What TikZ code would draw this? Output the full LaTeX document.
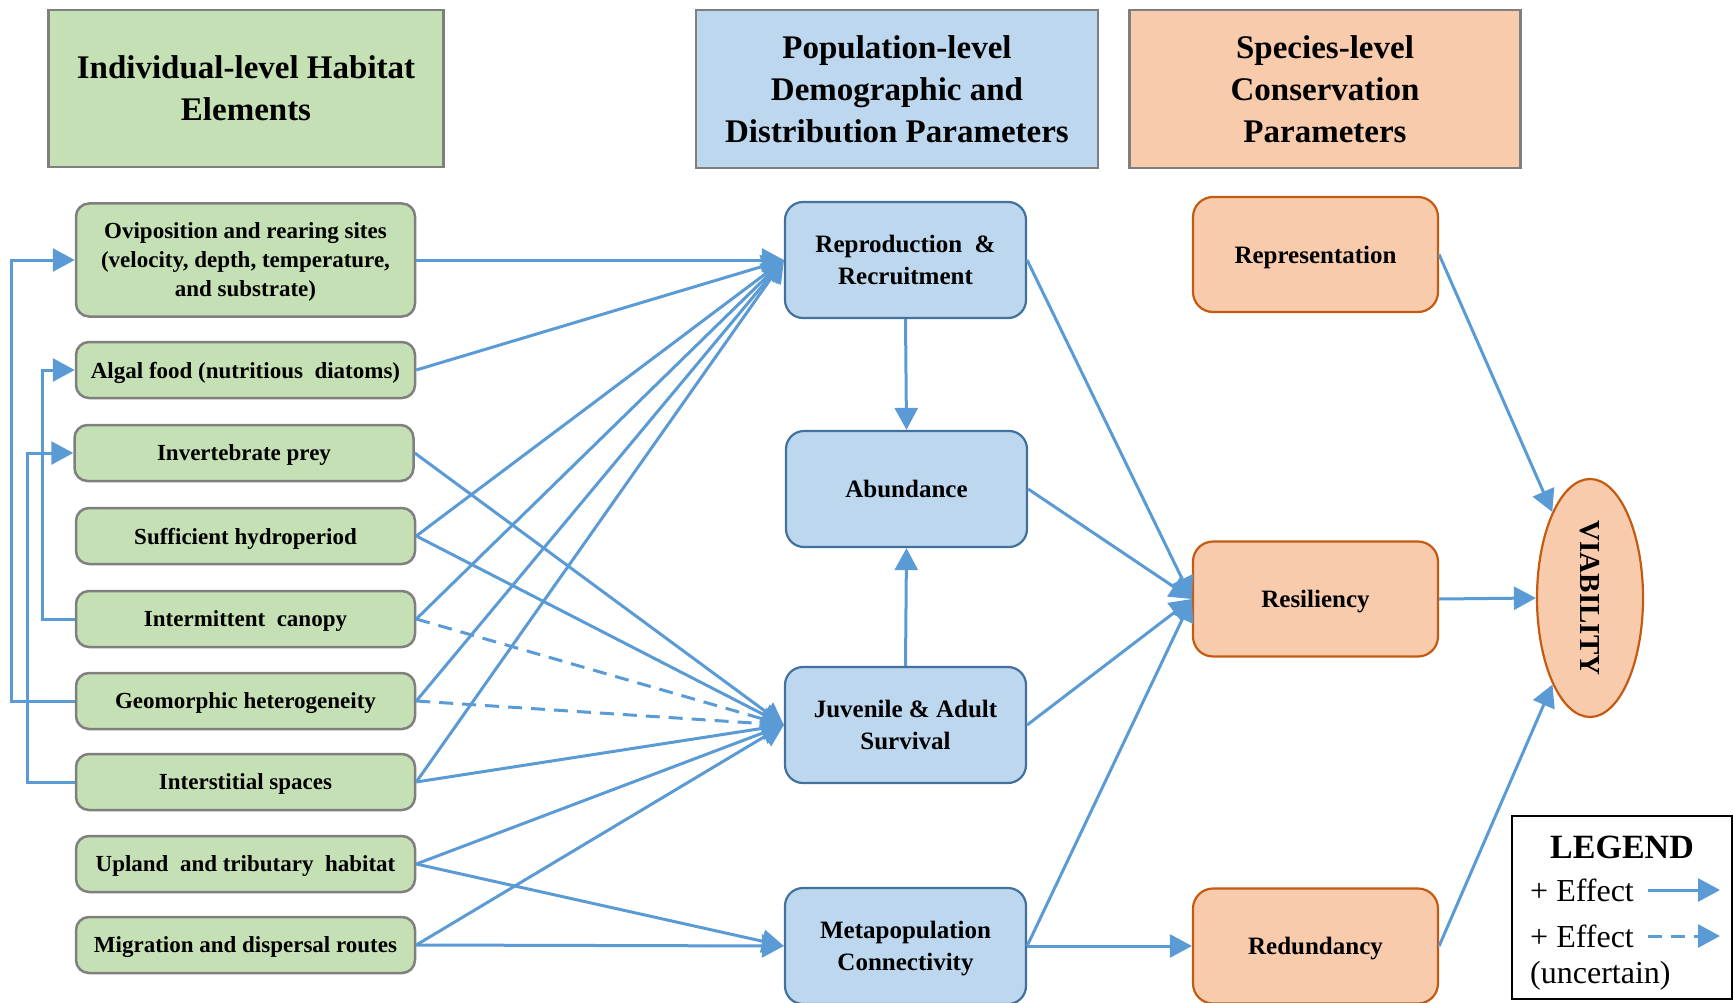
\documentclass[tikz,border=0pt]{standalone}
\usepackage{fontspec}
\setmainfont{Liberation Serif}
\usetikzlibrary{arrows.meta,shapes.geometric}

\definecolor{hgreen}{HTML}{C5E0B4}
\definecolor{hblue}{HTML}{BDD7EE}
\definecolor{horange}{HTML}{F8CBAD}
\definecolor{bgray}{HTML}{7F7F7F}
\definecolor{bblue}{HTML}{41719C}
\definecolor{borange}{HTML}{C55A11}
\definecolor{arrowblue}{HTML}{5B9BD5}

\tikzset{
  header/.style={draw=bgray, line width=2.5pt, rectangle, align=center,
    font=\fontsize{33}{42}\selectfont\bfseries, inner sep=0pt},
  habitat/.style={draw=bgray, fill=hgreen, line width=2.5pt, rounded corners=13pt,
    minimum width=339pt, minimum height=56pt, align=center, inner sep=0pt,
    text depth=0pt, font=\fontsize{23}{29}\selectfont\bfseries},
  demog/.style={draw=bblue, fill=hblue, line width=2.2pt, rounded corners=18pt,
    minimum width=241pt, minimum height=116pt, align=center, inner sep=0pt,
    text depth=0pt, font=\fontsize{25}{32}\selectfont\bfseries},
  species/.style={draw=borange, fill=horange, line width=2.2pt, rounded corners=20pt,
    minimum width=245pt, minimum height=115pt, align=center, inner sep=0pt,
    text depth=0pt, font=\fontsize{25}{32}\selectfont\bfseries},
  conn/.style={draw=arrowblue, line width=3pt, -{Triangle[length=22pt,width=23pt]}},
  uncertain/.style={conn, dash pattern=on 14pt off 9pt},
  legtext/.style={anchor=west, inner sep=0pt, font=\fontsize{32}{38}\selectfont}
}

\begin{document}
\begin{tikzpicture}[x=1pt, y=-1pt]
\useasboundingbox (0,0) rectangle (1734,1003);

% column headers
\node[header, fill=hgreen, minimum width=395pt, minimum height=157pt] (hind) at (246,88.5)
  {Individual-level Habitat\\Elements};
\node[header, fill=hblue, minimum width=402pt, minimum height=158pt] (hpop) at (897,89)
  {Population-level\\Demographic and\\Distribution Parameters};
\node[header, fill=horange, minimum width=391pt, minimum height=158pt] (hspe) at (1325,89)
  {Species-level\\Conservation\\Parameters};

% individual-level habitat elements
\node[habitat, minimum height=113pt] (ovi) at (245.5,260)
  {Oviposition and rearing sites\\(velocity, depth, temperature,\\and substrate)};
\node[habitat] (alg) at (245.5,370) {Algal food (nutritious\ \ diatoms)};
\node[habitat] (inv) at (244,453) {Invertebrate prey};
\node[habitat] (hyd) at (245.5,536) {Sufficient hydroperiod};
\node[habitat] (can) at (245.5,619) {Intermittent\ \ canopy};
\node[habitat] (geo) at (245.5,701) {Geomorphic heterogeneity};
\node[habitat] (isp) at (245.5,782) {Interstitial spaces};
\node[habitat] (upl) at (245.5,864) {Upland\ \ and tributary\ \ habitat};
\node[habitat] (mig) at (245.5,945) {Migration and dispersal routes};

% population-level parameters
\node[demog] (rep) at (905.5,260) {Reproduction \ \&\\Recruitment};
\node[demog] (abu) at (906.5,489) {Abundance};
\node[demog] (juv) at (905.5,725) {Juvenile \& Adult\\Survival};
\node[demog] (met) at (905.5,946) {Metapopulation\\Connectivity};

% species-level parameters
\node[species] (rpr) at (1315.5,254.5) {Representation};
\node[species] (res) at (1315.5,599) {Resiliency};
\node[species] (red) at (1315.5,946) {Redundancy};

\node[draw=borange, fill=horange, line width=2.2pt, ellipse, minimum width=106pt,
  minimum height=238pt, inner sep=0pt] (via) at (1590,598) {};
\node[rotate=-90, font=\fontsize{29}{34}\selectfont\bfseries] at (via.center) {VIABILITY};

% feedback among habitat elements
\draw[conn] (geo.west) -- ([xshift=-63pt]geo.west) |- (ovi.west);
\draw[conn] (isp.west) -- ([xshift=-47pt]isp.west) |- (inv.west);
\draw[conn] (can.west) -- ([xshift=-32pt]can.west) |- (alg.west);

% habitat -> reproduction & recruitment
\foreach \s in {ovi,alg,hyd,can,geo,isp}
  \draw[conn] (\s.east) -- (rep.west);

% habitat -> juvenile & adult survival
\foreach \s in {inv,hyd,isp,upl,mig}
  \draw[conn] (\s.east) -- (juv.west);
\draw[uncertain] (can.east) -- (juv.west);
\draw[uncertain] (geo.east) -- (juv.west);

% habitat -> metapopulation connectivity
\draw[conn] (upl.east) -- (met.west);
\draw[conn] (mig.east) -- (met.west);

% population-level links
\draw[conn] (rep.south) -- (abu.north);
\draw[conn] (juv.north) -- (abu.south);
\foreach \s in {rep,abu,juv,met}
  \draw[conn] (\s.east) -- (res.west);
\draw[conn] (met.east) -- (red.west);

% species-level -> viability
\draw[conn] (rpr.east) -- (via);
\draw[conn] (res.east) -- (via.west);
\draw[conn] (red.east) -- (via);

% legend
\node[draw=black, line width=2.5pt, minimum width=220pt, minimum height=183pt,
  inner sep=0pt] (leg) at (1622,907.5) {};
\node[font=\fontsize{34}{40}\selectfont\bfseries, inner sep=0pt] (legt) at (1622,847) {LEGEND};
\node[legtext] (le1) at (1530,890) {+ Effect};
\node[legtext] (le2) at (1530,936) {+ Effect};
\node[legtext] (le3) at (1530,976) {(uncertain)};
\coordinate (la1) at (1648,890);
\coordinate (lb1) at (1720,890);
\coordinate (la2) at (1648,936);
\coordinate (lb2) at (1720,936);
\draw[conn] (la1) -- (lb1);
\draw[uncertain] (la2) -- (lb2);
\end{tikzpicture}
\end{document}
